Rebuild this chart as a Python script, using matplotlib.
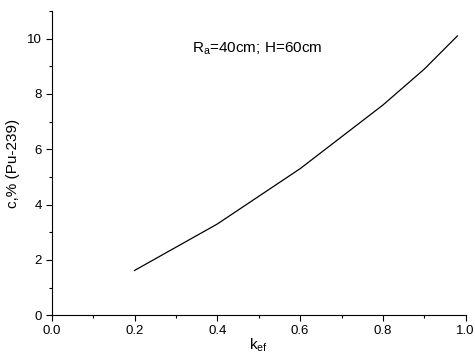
import matplotlib
matplotlib.use("Agg")
import matplotlib.pyplot as plt
from matplotlib.ticker import MultipleLocator

plt.rcParams['font.family'] = ['Liberation Sans', 'DejaVu Sans']
plt.rcParams['mathtext.default'] = 'regular'

k_ef = [0.2, 0.4, 0.6, 0.8, 0.9, 0.98]
c_pu = [1.62, 3.3, 5.3, 7.6, 8.9, 10.1]

fig = plt.figure(figsize=(4.75, 3.56), dpi=100)
ax = fig.add_axes([51.7 / 475, 1 - 315.3 / 356, 414 / 475, (315.3 - 11) / 356])

ax.plot(k_ef, c_pu, color='black', lw=0.9)

ax.set_xlim(0, 1.0)
ax.set_ylim(0, 11)
ax.xaxis.set_major_locator(MultipleLocator(0.2))
ax.xaxis.set_minor_locator(MultipleLocator(0.1))
ax.yaxis.set_major_locator(MultipleLocator(2))
ax.yaxis.set_minor_locator(MultipleLocator(1))
ax.xaxis.set_major_formatter(plt.FormatStrFormatter('%.1f'))
ax.spines['top'].set_visible(False)
ax.spines['right'].set_visible(False)
ax.tick_params(which='major', direction='out', length=4, width=0.8, labelsize=9.5, pad=3)
ax.tick_params(which='minor', direction='out', length=2.5, width=0.8)

ax.set_xlabel(r'k$_{ef}$', fontsize=11, labelpad=0)
ax.set_ylabel('c,% (Pu-239)', fontsize=11, labelpad=5)
ax.text(0.339, 9.62, r'R$_a$=40cm; H=60cm', fontsize=11, va='center')

fig.savefig('out.png', dpi=100)
